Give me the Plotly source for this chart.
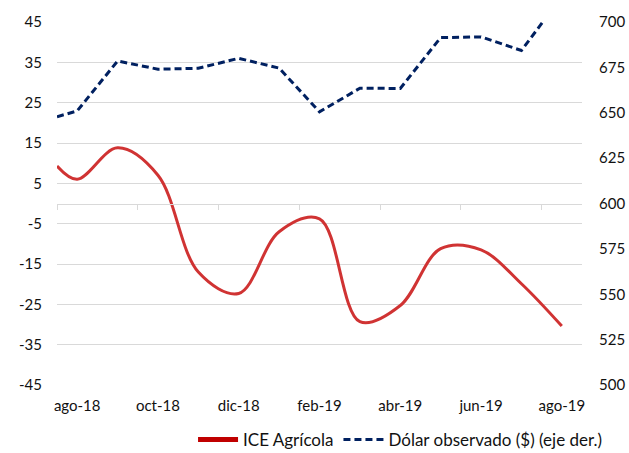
import plotly.graph_objects as go

# Data (monthly, Aug-2018 .. Aug-2019); x index: 0 = left edge, k+0.5 = month k centre
x_pos = [0, 0.5, 1.5, 2.5, 3.5, 4.5, 5.5, 6.5, 7.5, 8.5, 9.5, 10.5, 11.5, 12.5]
ice_agricola = [9.3, 6.0, 13.8, 7.0, -17.0, -22.3, -7.0, -3.8, -29.3, -25.3, -11.2, -11.5, -19.9, -30.4]
dolar_obs = [647.8, 651.0, 678.5, 674.0, 674.5, 680.0, 674.6, 650.5, 663.5, 663.4, 691.4, 691.8, 684.3, 714.0]

tick_pos = [0.5, 2.5, 4.5, 6.5, 8.5, 10.5, 12.5]
tick_labels = ["ago-18", "oct-18", "dic-18", "feb-19", "abr-19", "jun-19", "ago-19"]
boundary_ticks = [0, 2, 4, 6, 8, 10, 12]
left_ticks = [45, 35, 25, 15, 5, -5, -15, -25, -35, -45]
left_labels = ["45", "35", "25", "15", "5", "-5", "-15", "-25", "-35", "-45"]
right_ticks = [700, 675, 650, 625, 600, 575, 550, 525, 500]

FONT = "Lato"
TXT = "#111111"
GRID = "#D9D9D9"
DASH = "7px,4px"

fig = go.Figure()

fig.add_trace(go.Scatter(
    x=x_pos, y=ice_agricola, mode="lines", name="ICE Agrícola",
    line=dict(color="#D03333", width=3, shape="spline", smoothing=1.0),
    showlegend=False, xaxis="x", yaxis="y"))

fig.add_trace(go.Scatter(
    x=x_pos, y=dolar_obs, mode="lines", name="Dólar observado ($) (eje der.)",
    line=dict(color="#002060", width=3, dash=DASH),
    showlegend=False, xaxis="x", yaxis="y2"))

# legend entries
fig.add_trace(go.Scatter(
    x=[None], y=[None], mode="lines", name="ICE Agrícola",
    line=dict(color="#C00000", width=5), xaxis="x2", yaxis="y"))
fig.add_trace(go.Scatter(
    x=[None], y=[None], mode="lines", name="Dólar observado ($) (eje der.)",
    line=dict(color="#002060", width=3, dash=DASH), xaxis="x2", yaxis="y"))

fig.update_layout(
    width=629, height=453,
    margin=dict(l=57, r=47, t=22, b=68, autoexpand=False),
    paper_bgcolor="white", plot_bgcolor="white",
    font=dict(family=FONT, size=15, color=TXT),
    xaxis=dict(
        range=[0, 13], tickvals=tick_pos, ticktext=tick_labels,
        showgrid=False, zeroline=False, showline=False, ticks="",
        automargin=False,
        ticklabelstandoff=10, tickfont=dict(size=15, color=TXT)),
    xaxis2=dict(
        range=[0, 13], overlaying="x", anchor="free", position=0.5,
        side="bottom", tickvals=boundary_ticks, showticklabels=False,
        ticks="outside", ticklen=5, tickcolor=GRID, tickwidth=1,
        showline=True, linecolor=GRID, linewidth=1, automargin=False,
        showgrid=False, zeroline=False),
    yaxis=dict(
        range=[-45, 45], tickvals=left_ticks, ticktext=left_labels,
        showgrid=True, gridcolor=GRID, automargin=False,
        gridwidth=1, zeroline=False, showline=False, ticks="",
        ticklabelstandoff=14, tickfont=dict(size=15, color=TXT)),
    yaxis2=dict(
        range=[500, 700], tickvals=right_ticks, overlaying="y", side="right",
        showgrid=False, zeroline=False, showline=False, ticks="",
        automargin=False,
        ticklabelstandoff=16, tickfont=dict(size=15, color=TXT)),
    legend=dict(
        orientation="h", xref="container", yref="container",
        x=0.636, xanchor="center", y=0.029, yanchor="middle",
        font=dict(size=17, color=TXT), bgcolor="rgba(0,0,0,0)",
        itemwidth=40, traceorder="normal"),
)

fig.write_html("out.html", config={"displayModeBar": False},
               post_script="document.body.style.margin='0';")
